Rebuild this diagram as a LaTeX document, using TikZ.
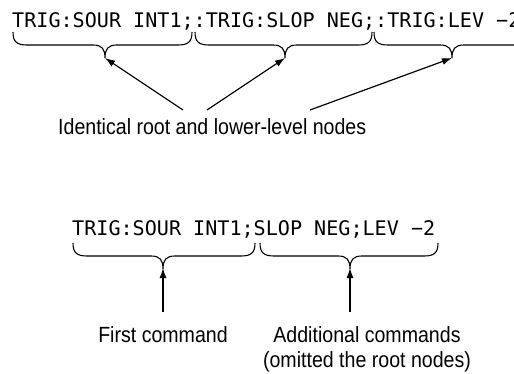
\documentclass[tikz,border=0pt]{standalone}
\usepackage{fontspec}
\usetikzlibrary{arrows.meta}
\newfontfamily\monof{DejaVu Sans Mono}
\newfontfamily\labf[FakeStretch=0.89]{Liberation Sans}
\tikzset{
  codetext/.style={font=\monof\fontsize{20.1}{24}\selectfont, inner sep=0pt, anchor=base west},
  labtext/.style={font=\labf\fontsize{22}{25}\selectfont, inner sep=0pt, anchor=base, align=center},
  bracestyle/.style={line width=1.1pt},
  pointer/.style={line width=1.2pt, -{Latex[length=10pt,width=7pt]}},
}
% #1 left x, #2 tip x, #3 right x, #4 top y (y grows downward)
\newcommand\mybrace[4]{%
  \draw[bracestyle] (#1,#4) .. controls (#1,#4+10) and (#1+4,#4+13) .. (#1+14,#4+13)
    -- (#2-12,#4+13) .. controls (#2-3,#4+13) and (#2,#4+17) .. (#2,#4+26)
    .. controls (#2,#4+17) and (#2+3,#4+13) .. (#2+12,#4+13)
    -- (#3-14,#4+13) .. controls (#3-4,#4+13) and (#3,#4+10) .. (#3,#4);}
\begin{document}
\begin{tikzpicture}[x=1pt,y=-1pt]
  \clip (0,0) rectangle (514,374);
  \fill[white] (0,0) rectangle (514,374);
  % top example
  \node[codetext] (code1) at (12,28) {TRIG:SOUR INT1;:TRIG:SLOP NEG;:TRIG:LEV −2};
  \mybrace{13}{105}{192}{32}
  \mybrace{195}{285}{372}{32}
  \mybrace{374}{452}{530}{32}
  \coordinate (tipA) at (105,58);
  \coordinate (tipB) at (285,58);
  \coordinate (tipC) at (452,58);
  \node[labtext, anchor=base west] (lab1) at (58,135) {Identical root and lower-level nodes};
  \coordinate (startA) at (183,110);
  \coordinate (startB) at (207,110);
  \coordinate (startC) at (310,110);
  \draw[pointer] (startA) -- (tipA);
  \draw[pointer] (startB) -- (tipB);
  \draw[pointer] (startC) -- (tipC);
  % bottom example
  \node[codetext] (code2) at (72,236) {TRIG:SOUR INT1;SLOP NEG;LEV −2};
  \mybrace{73}{163}{255}{243}
  \mybrace{260}{350}{438}{243}
  \coordinate (tipD) at (163,268);
  \coordinate (tipE) at (350,268);
  \node[labtext] (lab2) at (163,342) {First command};
  \node[labtext] (lab3) at (367,367) {Additional commands\\(omitted the root nodes)};
  \coordinate (startD) at (163,312);
  \coordinate (startE) at (350,312);
  \draw[pointer] (startD) -- (tipD);
  \draw[pointer] (startE) -- (tipE);
\end{tikzpicture}
\end{document}
